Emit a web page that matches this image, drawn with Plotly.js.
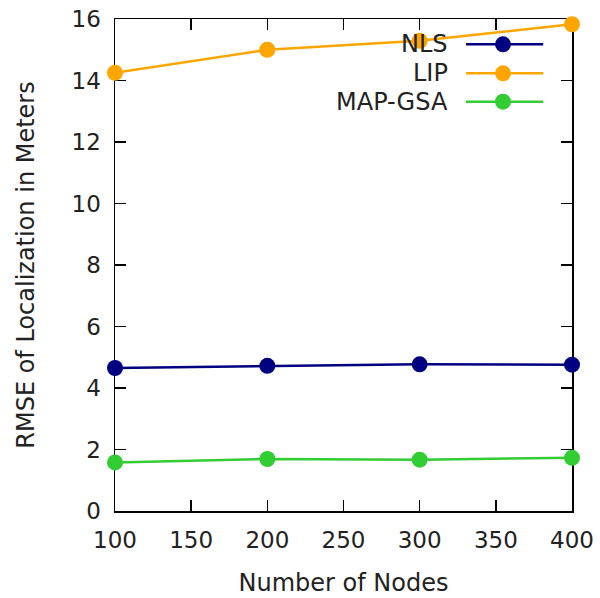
<!DOCTYPE html>
<html>
<head>
<meta charset="utf-8">
<script src="https://cdn.plot.ly/plotly-3.0.1.min.js"></script>
<style>html,body{margin:0;padding:0;background:#fff;}#chart{width:600px;height:598px;}</style>
</head>
<body>
<div id="chart"></div>
<script>
const xNodes = [100, 200, 300, 400];
const nlsValues = [4.65, 4.72, 4.77, 4.76];
const lipValues = [14.25, 15.0, 15.29, 15.83];
const mapGsaValues = [1.58, 1.69, 1.67, 1.73];
const seriesNames = ["NLS", "LIP", "MAP-GSA"];
const seriesColors = ["#000080", "#ffa500", "#32cd32"];
const xTickVals = [100, 150, 200, 250, 300, 350, 400];
const yTickVals = [0, 2, 4, 6, 8, 10, 12, 14, 16];
const xTitle = "Number of Nodes";
const yTitle = "RMSE of Localization in Meters";

const FONT = "DejaVu Sans";
const seriesValues = [nlsValues, lipValues, mapGsaValues];

const traces = seriesValues.map((vals, i) => ({
  x: xNodes, y: vals, name: seriesNames[i], type: "scatter", mode: "lines+markers",
  line: {color: seriesColors[i], width: 2.5},
  marker: {color: seriesColors[i], size: 16},
  cliponaxis: false, showlegend: false
}));

// manual gnuplot-style legend: text right, sample on its right
const legX0 = 0.768, legX1 = 0.937, legXm = 0.849, legText = 0.733;
const legRows = [0.9486, 0.8896, 0.8319];
const shapes = [], annotations = [];
seriesNames.forEach((nm, i) => {
  const y = legRows[i];
  shapes.push({type: "line", xref: "paper", yref: "paper", x0: legX0, x1: legX1, y0: y, y1: y,
    line: {color: seriesColors[i], width: 2.5}});
  shapes.push({type: "circle", xref: "paper", yref: "paper", xsizemode: "pixel", ysizemode: "pixel",
    xanchor: legXm, yanchor: y, x0: -8, x1: 8, y0: -8, y1: 8,
    fillcolor: seriesColors[i], line: {color: seriesColors[i], width: 0}});
  annotations.push({xref: "paper", yref: "paper", x: legText, y: y, xanchor: "right", yanchor: "middle",
    text: nm, showarrow: false, font: {family: FONT, size: 24, color: "#222"}});
});

const axisCommon = {
  showline: true, linecolor: "#000", linewidth: 1.5, mirror: "ticks",
  ticks: "inside", ticklen: 11, tickwidth: 1.5, tickcolor: "#000",
  showgrid: false, zeroline: false, layer: "below traces",
  tickfont: {family: FONT, size: 23, color: "#222"}
};

const layout = {
  width: 600, height: 598,
  margin: {l: 115, r: 28, t: 19, b: 87},
  paper_bgcolor: "#fff", plot_bgcolor: "#fff",
  showlegend: false,
  xaxis: Object.assign({}, axisCommon, {
    range: [100, 400], tickvals: xTickVals, ticktext: xTickVals.map(String),
    ticklabelstandoff: 8,
    title: {text: xTitle, font: {family: FONT, size: 24, color: "#222"}, standoff: 22}
  }),
  yaxis: Object.assign({}, axisCommon, {
    range: [0, 16], tickvals: yTickVals, ticktext: yTickVals.map(String),
    ticklabelstandoff: 8,
    title: {text: yTitle, font: {family: FONT, size: 24, color: "#222"}, standoff: 30}
  }),
  shapes: shapes,
  annotations: annotations
};

Plotly.newPlot("chart", traces, layout, {displayModeBar: false, staticPlot: true});
</script>
</body>
</html>
